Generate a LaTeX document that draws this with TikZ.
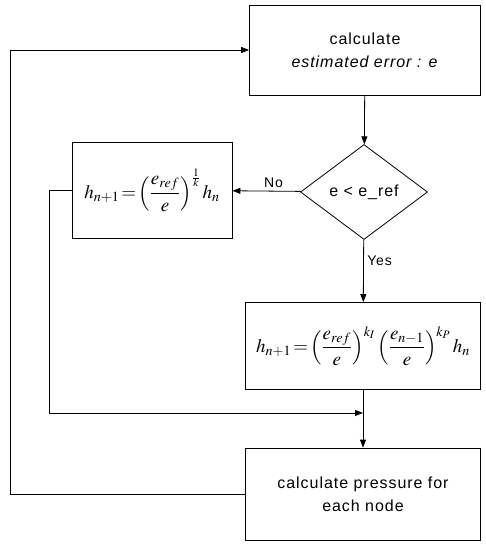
\documentclass[tikz,border=0pt]{standalone}
\usepackage{amsmath}
\usepackage{mathptmx}
\usepackage{fontspec}
\setsansfont{Liberation Sans}[LetterSpace=6]
\usepackage{tikz}
\usetikzlibrary{positioning,arrows.meta,calc,shapes.geometric}

\begin{document}
\begin{tikzpicture}[
    x=1pt,y=-1pt,
    >={Triangle[length=8pt,width=6pt]},
    font=\sffamily\fontsize{16}{23}\selectfont,
    stepbox/.style={draw,line width=0.8pt,inner sep=2pt,align=center},
    test/.style={diamond,draw,line width=0.8pt,inner sep=0pt,
                 minimum width=127pt,minimum height=95pt},
    eqn/.style={font=\fontsize{19}{22}\selectfont},
    flow/.style={->,line width=0.8pt},
    lbl/.style={font=\sffamily\fontsize{14}{16}\selectfont},
]
\useasboundingbox (0,0) rectangle (485,545);

% =====================================================================
%  main column: error estimate -> test -> step update -> pressure
% =====================================================================
\node[stepbox,minimum width=231pt,minimum height=90pt] (calc) at (365,50)
     {calculate\\\textit{estimated error : e}};
\node[test] (cmp) at (364,192) {e < e\_ref};
\node[stepbox,eqn,minimum width=235pt,minimum height=87pt] (hyes) at (363,346)
     {$h_{n+1}\!=\!\left(\dfrac{e_{ref}}{e}\right)^{k_I}
       \left(\dfrac{e_{n-1}}{e}\right)^{k_P} h_n$};
\node[stepbox,minimum width=235pt,minimum height=92pt] (press) at (363,494)
     {calculate pressure for\\each node};

% rejected step: shrink h
\node[stepbox,eqn,minimum width=160pt,minimum height=96pt] (hno) at (152,190)
     {$h_{n+1}\!=\!\left(\dfrac{e_{ref}}{e}\right)^{\frac{1}{k}} h_n$};

\draw[flow] (calc) -- (cmp);
\draw[flow] (cmp) -- node[lbl,above,pos=0.4] {No} (hno);
\draw[flow] (cmp) -- node[lbl,right,pos=0.33] {Yes} (hyes);
\draw[flow] (hyes) -- (press);

% both branches meet above the pressure box
\coordinate (merge) at ($(hyes.south)!0.4!(press.north)$);
\draw[flow] (hno.west) -- ++(-22,0) |- (merge);

% loop back to the error estimate
\draw[flow] (press.west) -- ++(-235,0) |- (calc.west);

\end{tikzpicture}
\end{document}
